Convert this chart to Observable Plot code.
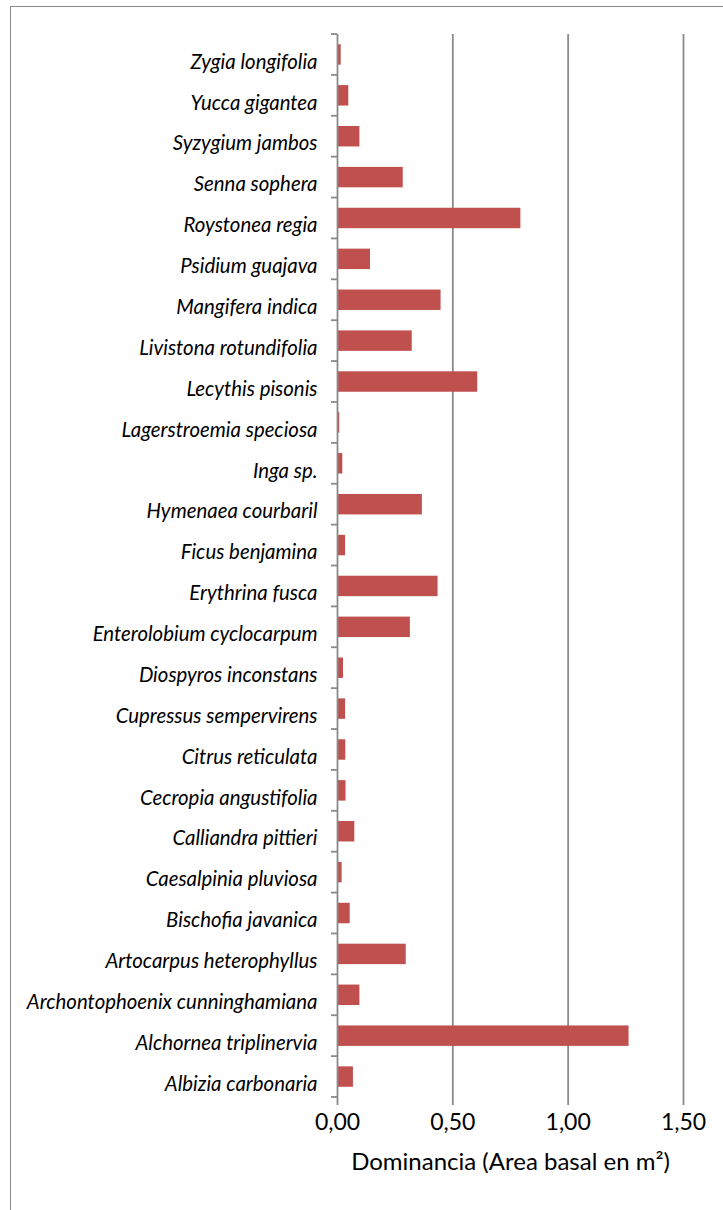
<!DOCTYPE html>
<html>
<head>
<meta charset="utf-8">
<script src="https://cdn.jsdelivr.net/npm/d3@7"></script>
<script src="https://cdn.jsdelivr.net/npm/@observablehq/plot@0.6"></script>
<style>
  html, body { margin: 0; padding: 0; background: #fff; }
  #wrap { position: relative; width: 723px; height: 1210px; overflow: hidden; background: #fff; }
  #border { position: absolute; left: 10px; top: 6px; width: 740px; height: 1230px; border: 1.5px solid #8a8a8a; box-sizing: border-box; pointer-events: none; }
  #chart { position: absolute; left: 0; top: 0; }
</style>
</head>
<body>
<div id="wrap"><div id="border"></div><div id="chart"></div></div>
<script>
// Species, listed bottom to top as in the source chart
const species = [
  "Albizia carbonaria",
  "Alchornea triplinervia",
  "Archontophoenix cunninghamiana",
  "Artocarpus heterophyllus",
  "Bischofia javanica",
  "Caesalpinia pluviosa",
  "Calliandra pittieri",
  "Cecropia angustifolia",
  "Citrus reticulata",
  "Cupressus sempervirens",
  "Diospyros inconstans",
  "Enterolobium cyclocarpum",
  "Erythrina fusca",
  "Ficus benjamina",
  "Hymenaea courbaril",
  "Inga sp.",
  "Lagerstroemia speciosa",
  "Lecythis pisonis",
  "Livistona rotundifolia",
  "Mangifera indica",
  "Psidium guajava",
  "Roystonea regia",
  "Senna sophera",
  "Syzygium jambos",
  "Yucca gigantea",
  "Zygia longifolia"
];
// Dominancia (área basal en m²)
const dominance = [
  0.069, 1.264, 0.097, 0.298, 0.055, 0.020, 0.075, 0.037, 0.036, 0.035,
  0.026, 0.316, 0.436, 0.035, 0.368, 0.023, 0.010, 0.608, 0.324, 0.449,
  0.143, 0.795, 0.285, 0.097, 0.049, 0.016
];
const xTicks = [0, 0.5, 1.0, 1.5];
const xTitle = "Dominancia (Area basal en m²)";

const data = species.map((s, i) => ({species: s, value: dominance[i]}));
const fmt = d => d.toFixed(2).replace(".", ",");
const GRID = "#8a8a8a";

// short tick marks on the category axis, at the band boundaries
function categoryTicks(index, scales) {
  const y = scales.y, x = scales.x;
  const dom = species.slice().reverse();
  const step = y(dom[1]) - y(dom[0]);
  const bw = typeof y.bandwidth === "function" ? y.bandwidth() : step * 0.5;
  const x0 = x(0);
  const g = d3.create("svg:g").attr("stroke", GRID).attr("stroke-width", 1.8);
  for (let i = 0; i <= dom.length; i++) {
    const b = y(dom[0]) + bw / 2 - step / 2 + i * step;
    g.append("line").attr("x1", x0 - 6).attr("x2", x0).attr("y1", b).attr("y2", b);
  }
  return g.node();
}

const chart = Plot.plot({
  width: 723,
  height: 1210,
  marginLeft: 337,
  marginRight: 40,
  marginTop: 34,
  marginBottom: 113,
  style: {fontFamily: "Lato, sans-serif", background: "transparent"},
  x: {domain: [0, 1.5], axis: null},
  y: {domain: species.slice().reverse(), paddingInner: 0.5, paddingOuter: 0.25, round: false, axis: null},
  marks: [
    Plot.ruleX(xTicks.slice(1), {stroke: GRID, strokeWidth: 1.8, insetBottom: -8}),
    Plot.barX(data, {x: "value", y: "species", fill: "#c0504d"}),
    Plot.ruleX([0], {stroke: GRID, strokeWidth: 1.8, insetBottom: -8}),
    categoryTicks,
    Plot.text(species, {
      y: d => d, x: () => 0, text: d => d, dx: -20, dy: 7.2,
      textAnchor: "end", fontStyle: "italic", fontSize: 20.4, fill: "#000"
    }),
    Plot.text(xTicks, {
      x: d => d, text: fmt, frameAnchor: "bottom", dy: 32.6,
      fontSize: 23, fill: "#000"
    }),
    Plot.text([xTitle], {
      text: d => d, frameAnchor: "bottom", dy: 72.3, fontSize: 24, fill: "#000"
    })
  ]
});
document.getElementById("chart").appendChild(chart);
</script>
</body>
</html>
